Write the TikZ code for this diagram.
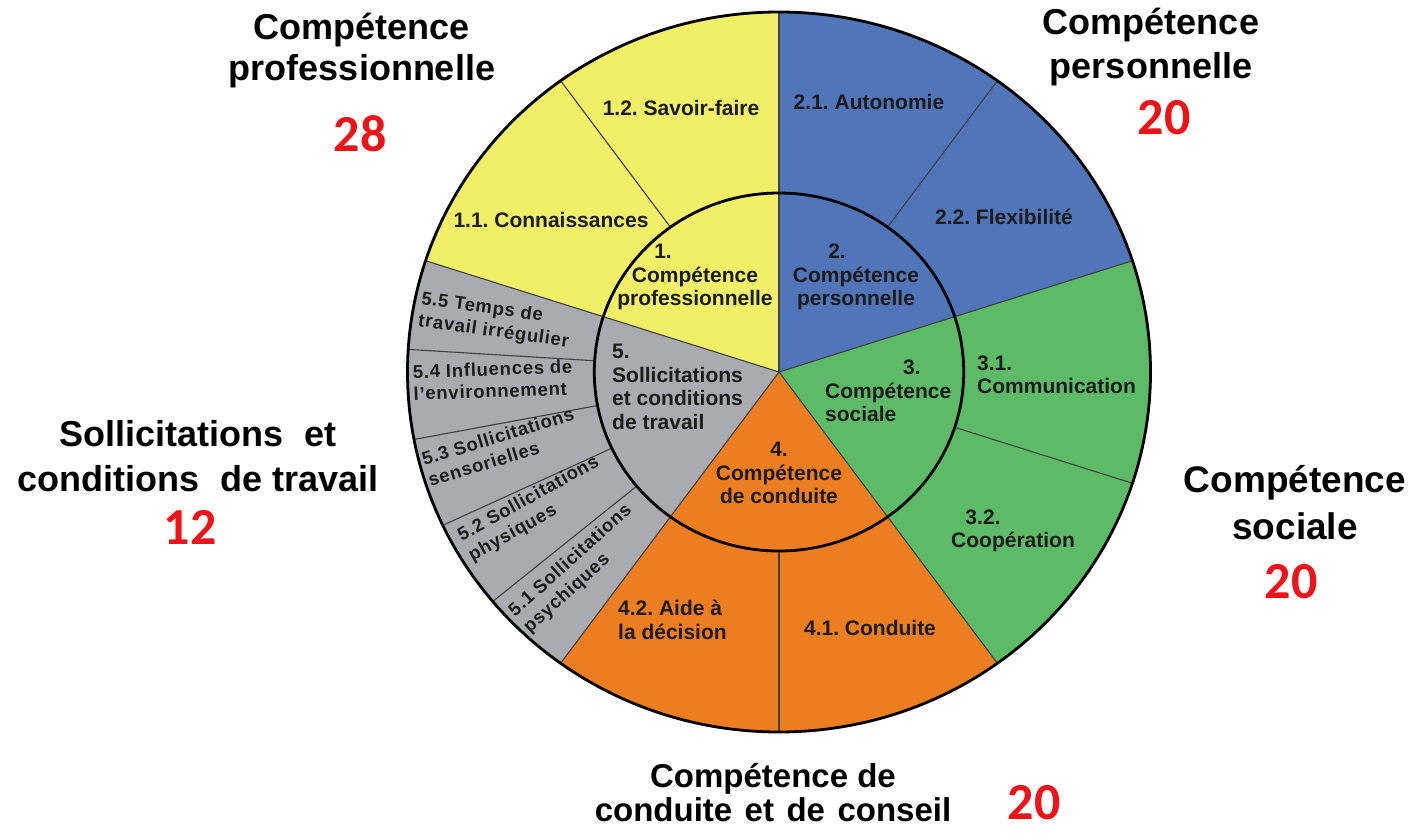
\documentclass[tikz,border=0pt]{standalone}
\usepackage{fontspec}
\setmainfont{Liberation Sans}
\newfontfamily\numfont{Carlito}
\newfontfamily\grayfont[LetterSpace=4]{Liberation Sans}
\definecolor{cyel}{RGB}{241,239,104}
\definecolor{cblu}{RGB}{80,117,184}
\definecolor{cgrn}{RGB}{93,187,103}
\definecolor{cora}{RGB}{236,125,32}
\definecolor{cgry}{RGB}{170,171,176}
\definecolor{cred}{RGB}{236,20,24}
\definecolor{ctxt}{RGB}{28,28,28}
\frenchspacing
\tikzset{
  rim/.style={draw=black, line width=2.8pt},
  sep/.style={draw=black!75, line width=1.1pt},
  intxt/.style={font=\bfseries\fontsize{21}{23.5}\selectfont, text=ctxt, inner sep=0pt, align=center},
  gtxt/.style={font=\grayfont\bfseries\fontsize{18.5}{22}\selectfont, text=ctxt, inner sep=0pt, align=left},
  bigtxt/.style={font=\bfseries\fontsize{36}{41}\selectfont, text=black, inner sep=0pt, align=center},
  numtxt/.style={font=\numfont\bfseries\fontsize{52}{52}\selectfont, text=cred, inner sep=0pt},
}
\begin{document}
\begin{tikzpicture}[x=1pt,y=1pt]
\path[use as bounding box] (0,0) rectangle (1414,-838);
\begin{scope}[shift={(779,-372)}, xscale=1.032]
  \def\R{360}\def\r{179}
  \fill[cyel] (0,0) -- (90:\R) arc[start angle=90,end angle=162,radius=\R] -- cycle;
  \fill[cgry] (0,0) -- (162:\R) arc[start angle=162,end angle=234,radius=\R] -- cycle;
  \fill[cora] (0,0) -- (234:\R) arc[start angle=234,end angle=306,radius=\R] -- cycle;
  \fill[cgrn] (0,0) -- (306:\R) arc[start angle=306,end angle=378,radius=\R] -- cycle;
  \fill[cblu] (0,0) -- (18:\R) arc[start angle=18,end angle=90,radius=\R] -- cycle;
  \foreach \a in {90,162,234,306,18} \draw[sep] (0,0) -- (\a:\R);
  \foreach \a in {126,54,342,270,176.4,190.8,205.2,219.6} \draw[sep] (\a:\r) -- (\a:\R);
  \draw[rim] (0,0) circle[radius=\r];
  \draw[rim] (0,0) circle[radius=\R];
\end{scope}
% inner labels
\node[intxt] (l1) at (695,-277) {1.\hspace*{64pt}\\Compétence\\professionnelle};
\node[intxt] (l2) at (856,-277) {2.\hspace*{38pt}\\Compétence\\personnelle};
\node[intxt, align=left, anchor=west] (l3) at (825,-391) {\hspace*{78pt}3.\\Compétence\\sociale};
\node[intxt] (l4) at (779,-473) {4.\\Compétence\\de conduite};
\node[intxt, align=left, anchor=west] (l5) at (612,-387) {5.\\Sollicitations\\et conditions\\de travail};
% outer ring labels
\node[intxt] (l12) at (681,-108) {1.2. Savoir-faire};
\node[intxt] (l11) at (551,-220) {1.1. Connaissances};
\node[intxt] (l21) at (869,-102) {2.1. Autonomie};
\node[intxt] (l22) at (1004,-217) {2.2. Flexibilité};
\node[intxt, align=left, anchor=west] (l31) at (977,-375) {3.1.\\Communication};
\node[intxt] (l32) at (1013,-531) {3.2.\hspace*{60pt}\\Coopération};
\node[intxt, align=left, anchor=west] (l42) at (618,-620) {4.2. Aide à\\la décision};
\node[intxt] (l41) at (870,-628) {4.1. Conduite};
% gray ring labels
\node[gtxt, rotate=-8] (l55) at (495,-321) {5.5 Temps de\\travail irrégulier};
\node[gtxt, rotate=2] (l54) at (493,-380) {5.4 Influences de\\l’environnement};
\node[gtxt, rotate=17] (l53) at (501,-447) {5.3 Sollicitations\\sensorielles};
\node[gtxt, rotate=29] (l52) at (534,-509) {5.2 Sollicitations\\physiques};
\node[gtxt, rotate=42] (l51) at (578,-569) {5.1 Sollicitations\\psychiques};
% big outer labels
\node[bigtxt] (t1) at (362,-51) {Compétence\\professionnelle};
\node[numtxt] (n1) at (360,-134) {28};
\node[bigtxt, font=\bfseries\fontsize{36}{44}\selectfont] (t2) at (1151,-47.5) {Compétence\\personnelle};
\node[numtxt] (n2) at (1164,-118) {20};
\node[bigtxt, font=\bfseries\fontsize{37}{47}\selectfont] (t3) at (1295,-503) {Compétence\\sociale};
\node[numtxt] (n3) at (1291,-582) {20};
\node[bigtxt, font=\bfseries\fontsize{36}{45}\selectfont] (t5) at (198,-456) {Sollicitations\hspace{0.3em} et\\conditions\hspace{0.3em} de travail};
\node[numtxt] (n5) at (190,-527) {12};
\node[bigtxt, font=\bfseries\fontsize{33}{34}\selectfont] (t4) at (773,-793) {Compétence de\\conduite\hspace{0.1em} et\hspace{0.1em} de\hspace{0.1em} conseil};
\node[numtxt] (n4) at (1034,-803) {20};
\end{tikzpicture}
\end{document}
